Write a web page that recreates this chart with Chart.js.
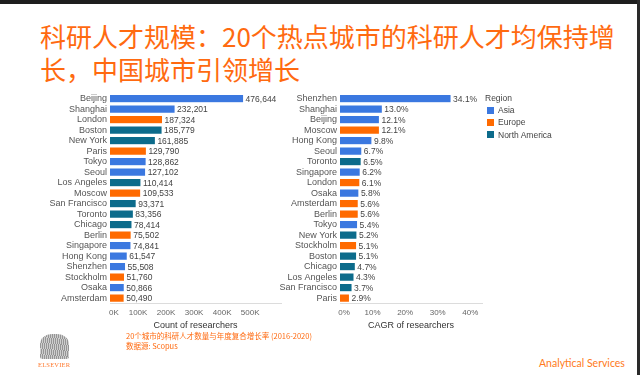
<!DOCTYPE html>
<html>
<head>
<meta charset="utf-8">
<script src="https://cdn.jsdelivr.net/npm/chart.js@4"></script>
<style>
  body { margin: 0; background: #fff; width: 640px; height: 375px; overflow: hidden; position: relative; font-family: "Liberation Sans", sans-serif; }
  .topbar { position: absolute; left: 0; top: 0; width: 640px; height: 4px; background: #1e1e1e; }
  .rightbar { position: absolute; right: 0; top: 0; width: 3px; height: 375px; background: #2a2a2a; }
  .title { position: absolute; left: 40px; top: 19px; width: 590px; font-family: "Noto Sans CJK SC", sans-serif; font-size: 26px; line-height: 33px; color: #ff6a10; }
  #leftWrap { position: absolute; left: 0; top: 85px; width: 290px; height: 250px; }
  #rightWrap { position: absolute; left: 270px; top: 85px; width: 220px; height: 250px; }
  .legend { position: absolute; left: 485px; top: 92px; font-size: 8.5px; color: #444; }
  .legend div { height: 12.2px; line-height: 12.2px; white-space: nowrap; }
  .legend span { display: inline-block; width: 7px; height: 7px; margin: 0 4px 0 2px; vertical-align: -0.5px; }
  .note { position: absolute; left: 126px; top: 331px; font-family: "Noto Sans CJK SC", sans-serif; font-size: 7.5px; line-height: 10px; color: #ff6a10; }
  .logo { position: absolute; left: 40px; top: 334px; width: 29px; height: 25px; background: repeating-linear-gradient(100deg, #8a8a8a 0 1px, #c9c9c9 1px 2px); border-radius: 40% 40% 10% 10%; opacity: 0.9; }
  .logotext { position: absolute; left: 38px; top: 361px; font-family: "Liberation Serif", serif; font-size: 6.5px; color: #ff7a30; letter-spacing: 0.2px; }
  .brand { position: absolute; left: 539px; top: 357px; font-family: Lato, sans-serif; font-size: 10.5px; color: #ff7a20; }
</style>
</head>
<body>
<div class="topbar"></div>
<div class="rightbar"></div>
<div class="title">科研人才规模：20个热点城市的科研人才均保持增<br>长，中国城市引领增长</div>

<div id="leftWrap"><canvas id="leftChart" width="290" height="250"></canvas></div>
<div id="rightWrap"><canvas id="rightChart" width="220" height="250"></canvas></div>

<div class="legend">
  <div>Region</div>
  <div><span style="background:#3b78e0"></span>Asia</div>
  <div><span style="background:#ff6a00"></span>Europe</div>
  <div><span style="background:#0c6b8b"></span>North America</div>
</div>

<div class="logo"></div>
<div class="logotext">ELSEVIER</div>
<div class="note">20个城市的科研人才数量与年度复合增长率 (2016-2020)<br>数据源: Scopus</div>
<div class="brand">Analytical Services</div>

<script>
// researcher counts
const countCities = ['Beijing', 'Shanghai', 'London', 'Boston', 'New York', 'Paris', 'Tokyo', 'Seoul',
  'Los Angeles', 'Moscow', 'San Francisco', 'Toronto', 'Chicago', 'Berlin', 'Singapore', 'Hong Kong',
  'Shenzhen', 'Stockholm', 'Osaka', 'Amsterdam'];
const countValues = [476644, 232201, 187324, 185779, 161885, 129790, 128862, 127102,
  110414, 109533, 93371, 83356, 78414, 75502, 74841, 61547,
  55508, 51760, 50866, 50490];

// CAGR 2016-2020
const cagrCities = ['Shenzhen', 'Shanghai', 'Beijing', 'Moscow', 'Hong Kong', 'Seoul', 'Toronto', 'Singapore',
  'London', 'Osaka', 'Amsterdam', 'Berlin', 'Tokyo', 'New York', 'Stockholm', 'Boston',
  'Chicago', 'Los Angeles', 'San Francisco', 'Paris'];
const cagrValues = [34.1, 13.0, 12.1, 12.1, 9.8, 6.7, 6.5, 6.2,
  6.1, 5.8, 5.6, 5.6, 5.4, 5.2, 5.1, 5.1,
  4.7, 4.3, 3.7, 2.9];

const countTickValues = [0, 100000, 200000, 300000, 400000, 500000];
const countTicks = ['0K', '100K', '200K', '300K', '400K', '500K'];
const cagrTickValues = [0, 10, 20, 30, 40];
const cagrTicks = ['0%', '10%', '20%', '30%', '40%'];

const asiaCities = ['Beijing', 'Shanghai', 'Tokyo', 'Seoul', 'Singapore', 'Hong Kong', 'Shenzhen', 'Osaka'];
const europeCities = ['London', 'Paris', 'Moscow', 'Berlin', 'Stockholm', 'Amsterdam'];

const regionColors = { Asia: '#3b78e0', Europe: '#ff6a00', 'North America': '#0c6b8b' };

function regionOf(city) {
  if (asiaCities.includes(city)) return 'Asia';
  if (europeCities.includes(city)) return 'Europe';
  return 'North America';
}

const fam = '"Liberation Sans", sans-serif';

// value text right of each bar
const valueLabels = {
  id: 'valueLabels',
  afterDatasetsDraw(chart, args, opts) {
    const ctx = chart.ctx;
    const meta = chart.getDatasetMeta(0);
    ctx.save();
    ctx.font = '8.5px ' + fam;
    ctx.fillStyle = '#444';
    ctx.textBaseline = 'middle';
    ctx.textAlign = 'left';
    meta.data.forEach((bar, i) => {
      const v = chart.data.datasets[0].data[i];
      ctx.fillText(opts.format(v), bar.x + 2, bar.y + 1);
    });
    ctx.restore();
  }
};

function makeChart(id, cities, values, maxVal, tickValues, tickText, title, yWidth, padRight, format) {
  const ctx = document.getElementById(id).getContext('2d');
  return new Chart(ctx, {
    type: 'bar',
    data: {
      labels: cities,
      datasets: [{
        data: values,
        backgroundColor: cities.map(c => regionColors[regionOf(c)]),
        borderColor: '#ffffff',
        borderWidth: 0.5,
        categoryPercentage: 1,
        barPercentage: 0.78
      }]
    },
    options: {
      indexAxis: 'y',
      responsive: false,
      animation: false,
      layout: { padding: { top: 6.7, right: padRight, left: 0, bottom: 0 } },
      plugins: {
        legend: { display: false },
        tooltip: { enabled: false },
        valueLabels: { format: format }
      },
      scales: {
        x: {
          min: 0,
          max: maxVal,
          afterBuildTicks: (s) => { s.ticks = tickValues.map(v => ({ value: v })); },
          ticks: {
            autoSkip: false,
            maxRotation: 0,
            padding: 5,
            color: '#666',
            font: { family: fam, size: 8 },
            callback: (v, i) => (i === 0 ? '\u2002\u2002' : '') + tickText[i]
          },
          grid: { display: false, drawTicks: false },
          border: { display: true, color: '#dcdcdc', width: 1 },
          title: { display: true, text: title, color: '#333', font: { family: fam, size: 9 }, padding: { top: 0, bottom: 4 } },
          afterFit: (s) => { s.height = 31.7; }
        },
        y: {
          ticks: { color: '#555', font: { family: fam, size: 9 }, padding: 3, autoSkip: false },
          grid: { display: false, drawTicks: false },
          border: { display: false },
          afterFit: (s) => { s.width = yWidth; }
        }
      }
    },
    plugins: [valueLabels]
  });
}

makeChart('leftChart', countCities, countValues, 610000, countTickValues, countTicks, 'Count of researchers', 110, 9,
  v => v.toLocaleString('en-US'));
makeChart('rightChart', cagrCities, cagrValues, 43.6, cagrTickValues, cagrTicks, 'CAGR of researchers', 70, 8,
  v => v.toFixed(1) + '%');
</script>
</body>
</html>
